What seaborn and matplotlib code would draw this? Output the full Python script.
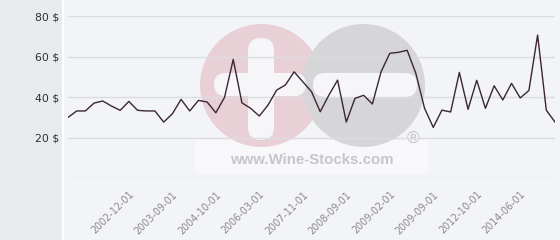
import matplotlib
matplotlib.use("Agg")
import matplotlib.pyplot as plt
import matplotlib.patches as mpatches
import matplotlib.transforms as mtransforms
import seaborn as sns
import pandas as pd

# ---- data ----
prices = [30.0, 33.2, 33.2, 37.1, 38.1, 35.6, 33.5, 37.9, 33.5, 33.2,
          33.2, 27.7, 31.8, 38.9, 33.2, 38.4, 37.6, 32.3, 39.9, 58.6,
          37.2, 34.5, 30.7, 36.1, 43.5, 46.0, 52.5, 47.6, 42.7, 32.8,
          41.0, 48.4, 27.7, 39.4, 40.9, 36.6, 52.5, 61.6, 62.1, 63.1,
          51.7, 34.5, 25.1, 33.6, 32.7, 52.2, 34.0, 48.3, 34.5, 45.6,
          38.6, 46.8, 39.6, 43.3, 70.6, 33.6, 27.7]
tick_index = [7, 12, 17, 22, 27, 32, 37, 42, 47, 52]
tick_labels = ["2002-12-01", "2003-09-01", "2004-10-01", "2006-03-01",
               "2007-11-01", "2008-09-01", "2009-02-01", "2009-09-01",
               "2012-10-01", "2014-06-01"]
y_ticks = [0, 20, 40, 60, 80]
y_labels = ["", "20 $", "40 $", "60 $", "80 $"]

df = pd.DataFrame({"idx": range(len(prices)), "price": prices})

sns.set_style("white")
plt.rcParams["font.family"] = ["DejaVu Sans"]

W, H = 560, 240
fig = plt.figure(figsize=(W / 100, H / 100), dpi=100, facecolor="#f3f4f8")
px = mtransforms.IdentityTransform()

def rect(x0, y0, x1, y1, **kw):
    # pixel coords with y measured from top
    fig.add_artist(mpatches.Rectangle((x0, H - y1), x1 - x0, y1 - y0,
                                      transform=px, **kw))

def rbar(x0, y0, x1, y1, color, z=-3):
    r = min(x1 - x0, y1 - y0) / 2
    fig.add_artist(mpatches.FancyBboxPatch((x0, H - y1), x1 - x0, y1 - y0,
                   boxstyle=f"round,pad=0,rounding_size={r}", transform=px,
                   facecolor=color, edgecolor="none", zorder=z))

# left gray panel
rect(0, 0, 62, 240, facecolor="#e7ebee", edgecolor="none", zorder=-5)
rect(62, 0, 63.5, 240, facecolor="#ffffff", edgecolor="none", zorder=-5)

# watermark
pink, grey = "#e9d0d7", "#d6d6d9"
rect(195, 140, 428, 174, facecolor="#f8f8fa", edgecolor="none", zorder=-4.5)
fig.add_artist(mpatches.Circle((261.5, H - 85.5), 61.5, transform=px,
                               facecolor=pink, edgecolor="none", zorder=-4))
fig.add_artist(mpatches.Circle((363.5, H - 85.5), 61.5, transform=px,
                               facecolor=grey, edgecolor="none", zorder=-4))
white = "#f6f6f9"
rbar(214, 73, 306, 96, white)
rbar(248, 38, 274, 140, white)
rbar(313, 73, 417, 97, white)
fig.text(312 / W, 1 - 160.5 / H, "www.Wine-Stocks.com", ha="center",
         va="center", fontsize=10.8, fontweight="bold",
         family=["Liberation Sans", "DejaVu Sans"], color="#c6c6c9",
         zorder=-2)
fig.text(413 / W, 1 - 139 / H, "®", ha="center", va="center",
         fontsize=12.5, family=["Liberation Sans", "DejaVu Sans"],
         color="#c6c6c9", zorder=-2)

ax = fig.add_axes([68 / W, 1 - 178.3 / H, (555 - 68) / W, (178.3 - 16) / H])
ax.set_facecolor("none")
ax.set_zorder(1)

sns.lineplot(data=df, x="idx", y="price", ax=ax, color="#3b2632",
             linewidth=1.0, zorder=3)

ax.set_xlim(0, len(prices) - 1)
ax.set_ylim(0, 80)
ax.set_yticks(y_ticks)
ax.set_yticklabels(y_labels)
ax.set_xticks(tick_index)
ax.set_xticklabels(tick_labels, rotation=45, ha="right",
                   rotation_mode="anchor")
ax.tick_params(axis="y", length=0, pad=6, labelsize=7.8, labelcolor="#2e2e2e")
ax.tick_params(axis="x", length=0, pad=8, labelsize=6.9, labelcolor="#8a8a8a")
ax.yaxis.grid(True, color="#dcdde2", linewidth=1.0)
ax.xaxis.grid(False)
ax.set_axisbelow(True)
for s in ax.spines.values():
    s.set_visible(False)
ax.set_xlabel("")
ax.set_ylabel("")

fig.savefig("out.png", dpi=100, facecolor=fig.get_facecolor())
